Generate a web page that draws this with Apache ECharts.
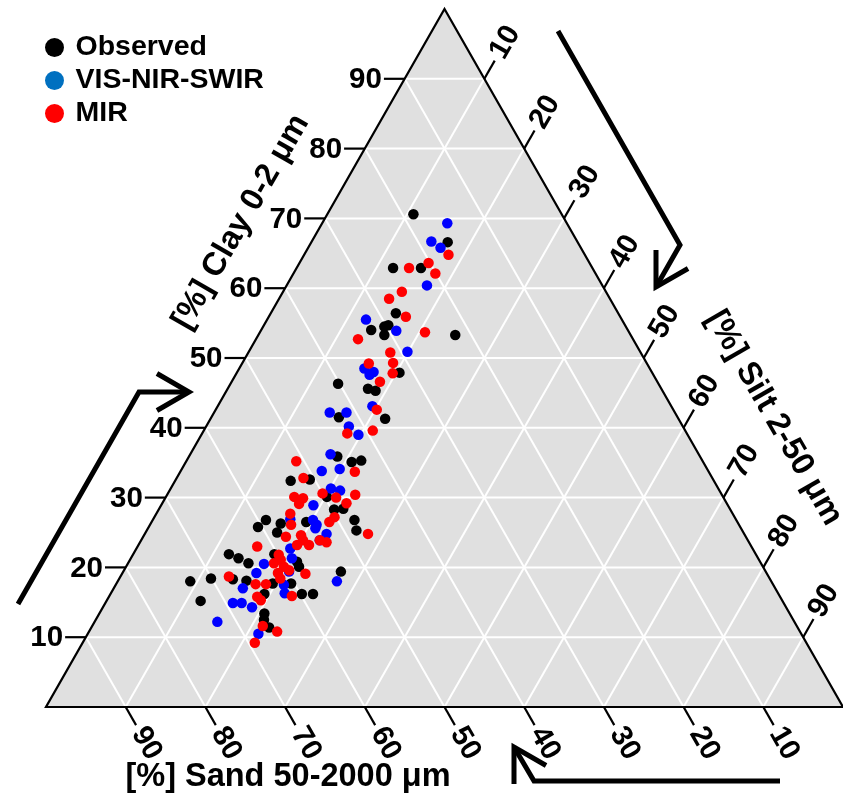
<!DOCTYPE html>
<html><head><meta charset="utf-8">
<script src="https://cdn.jsdelivr.net/npm/echarts@6/dist/echarts.min.js"></script>
<style>html,body{margin:0;padding:0;background:#fff}#c{width:843px;height:803px}</style>
</head><body><div id="c"></div><script>
// ---- data (percent): [sand, silt, clay] ----
const tickValues = [10, 20, 30, 40, 50, 60, 70, 80, 90];
const clayTickLabels = ['10','20','30','40','50','60','70','80','90'];
const siltTickLabels = ['10','20','30','40','50','60','70','80','90'];
const sandTickLabels = ['10','20','30','40','50','60','70','80','90'];
const seriesNames = ['Observed', 'VIS-NIR-SWIR', 'MIR'];
const clayTitle = '[%] Clay 0-2 \u03bcm';
const siltTitle = '[%] Silt 2-50 \u03bcm';
const sandTitle = '[%] Sand 50-2000 \u03bcm';

const observed = [
  [18.6,10.8,70.6],[16.3,17.1,66.6],[25.0,12.1,62.9],[21.5,15.6,62.9],[27.9,15.7,56.4],
  [32.2,13.8,54.0],[30.3,15.2,54.5],[29.7,15.6,54.7],[30.9,15.8,53.3],[22.0,24.7,53.3],
  [31.7,20.4,47.9],[40.2,13.5,46.3],[36.8,17.6,45.6],[36.0,18.7,45.3],[42.5,16.0,41.5],
  [36.8,21.9,41.3],[45.5,18.6,35.9],[44.1,20.8,35.1],[42.8,21.9,35.3],[53.1,14.5,32.4],
  [50.6,16.8,32.6],[49.7,20.2,30.1],[48.5,23.1,28.4],[49.7,22.0,28.3],[59.0,14.2,26.8],
  [60.5,13.7,25.8],[57.4,16.3,26.3],[58.5,16.5,25.0],[54.1,19.4,26.5],[47.9,25.3,26.8],
  [48.4,26.3,25.3],[66.1,12.0,21.9],[65.2,13.5,21.3],[64.3,15.1,20.6],[60.4,17.7,21.9],
  [58.1,21.1,20.8],[58.2,21.7,20.1],[53.3,27.3,19.4],[72.9,9.1,18.0],[70.1,11.5,18.4],
  [67.4,14.3,18.3],[65.8,16.1,18.1],[60.4,21.9,17.7],[64.5,19.3,16.2],[59.8,24.0,16.2],
  [58.4,25.4,16.2],[73.0,11.8,15.2],[65.9,20.7,13.4],[66.4,21.1,12.5],[66.3,22.3,11.4],
  [62.7,19.6,17.7]
];
const visNirSwir = [
  [15.0,15.7,69.3],[18.3,15.0,66.7],[17.6,16.6,65.8],[22.0,17.6,60.4],[32.1,12.4,55.5],
  [29.1,17.0,53.9],[29.2,19.9,50.9],[35.8,15.7,48.5],[34.9,17.1,48.0],[35.6,16.8,47.6],
  [43.3,14.5,42.2],[41.2,16.6,42.2],[37.5,19.4,43.1],[41.9,17.9,40.2],[41.3,19.7,39.0],
  [46.2,17.6,36.2],[48.5,17.7,33.8],[46.1,19.8,34.1],[48.6,20.1,31.3],[47.6,21.4,31.0],
  [52.0,19.1,28.9],[55.9,17.2,26.9],[53.1,20.1,26.8],[53.0,20.9,26.1],[53.4,21.0,25.6],
  [52.4,22.8,24.8],[53.7,22.4,23.9],[58.0,19.3,22.7],[62.4,17.1,20.5],[64.0,16.8,19.2],
  [59.8,20.8,19.4],[58.5,20.2,21.3],[54.5,27.5,18.0],[66.8,16.2,17.0],[61.9,21.8,16.3],
  [61.4,21.1,17.5],[69.1,16.0,14.9],[68.0,17.1,14.9],[67.0,18.7,14.3],[72.4,15.4,12.2],
  [68.1,21.4,10.5]
];
const mir = [
  [17.1,18.1,64.8],[23.0,14.1,62.9],[20.2,16.2,63.6],[20.1,17.8,62.1],[25.6,14.9,59.5],
  [27.7,13.8,58.5],[26.9,17.2,55.9],[25.6,20.7,53.7],[34.5,12.8,52.7],[31.4,17.8,50.8],
  [31.8,18.9,49.3],[34.9,15.9,49.2],[32.6,19.6,47.8],[34.8,18.6,46.6],[37.2,20.2,42.6],
  [42.6,18.2,39.2],[39.2,21.2,39.6],[51.0,13.8,35.2],[44.4,21.9,33.7],[51.3,15.9,32.8],
  [50.0,19.4,30.6],[48.6,21.4,30.0],[46.0,23.6,30.4],[53.8,16.1,30.1],[52.8,17.3,29.9],
  [53.7,17.2,29.1],[47.7,23.1,29.2],[55.5,16.8,27.7],[56.2,17.7,26.1],[51.2,22.3,26.5],
  [50.2,22.6,27.2],[47.2,28.0,24.8],[57.7,17.9,24.4],[55.7,19.7,24.6],[55.8,20.3,23.9],
  [53.7,22.4,23.9],[53.0,23.4,23.6],[56.9,19.9,23.2],[55.4,21.4,23.2],[62.0,15.0,23.0],
  [59.9,18.3,21.8],[61.1,18.3,20.6],[60.0,18.9,21.1],[60.1,19.8,20.1],[59.7,20.7,19.6],
  [61.3,19.5,19.2],[61.4,20.2,18.4],[57.9,23.0,19.1],[67.7,13.6,18.7],[64.9,17.5,17.6],
  [63.6,18.8,17.6],[61.2,22.9,15.9],[65.6,18.6,15.8],[65.4,19.3,15.3],[67.0,21.4,11.6],
  [65.6,23.6,10.8],[69.2,21.6,9.2]
];

// ---- ternary -> cartesian ----
const SQ = Math.sqrt(3) / 2;
function tern(sand, silt, clay) { return [silt + clay / 2, clay * SQ]; }

const FONT_TICK = 'bold 29.5px "Liberation Sans", Arial, sans-serif';
const FONT_TITLE = 'bold 32.5px "Liberation Sans", Arial, sans-serif';
const TICK = 2.6;      // tick length in percent units
const LAB_GAP = 21;    // px from tick end to rotated label centre

const chart = echarts.init(document.getElementById('c'), null, {renderer: 'canvas'});

const bgSeries = {
  type: 'custom', silent: true, z: 1, clip: false,
  data: [[0]],
  renderItem(params, api) {
    const pts = [api.coord(tern(100,0,0)), api.coord(tern(0,100,0)), api.coord(tern(0,0,100))];
    return {type: 'polygon', shape: {points: pts}, style: {fill: '#e0e0e0'}};
  }
};
const gridSeries = {
  type: 'custom', silent: true, z: 2, clip: false,
  data: tickValues.map(v => [v]),
  renderItem(params, api) {
    const k = api.value(0);
    const segs = [
      [tern(100-k,0,k), tern(0,100-k,k)],   // clay
      [tern(k,0,100-k), tern(k,100-k,0)],   // sand
      [tern(100-k,k,0), tern(0,k,100-k)]    // silt
    ];
    return {type: 'group', children: segs.map(s => {
      const a = api.coord(s[0]), b = api.coord(s[1]);
      return {type:'line', shape:{x1:a[0],y1:a[1],x2:b[0],y2:b[1]}, style:{stroke:'#ffffff', lineWidth:2}};
    })};
  }
};
const borderSeries = {
  type: 'custom', silent: true, z: 4, clip: false,
  data: [[0]],
  renderItem(params, api) {
    const pts = [api.coord(tern(100,0,0)), api.coord(tern(0,100,0)), api.coord(tern(0,0,100))];
    return {type: 'polygon', shape: {points: pts}, style: {fill: 'none', stroke: '#000', lineWidth: 2.2}};
  }
};
const tickSeries = {
  type: 'custom', silent: true, z: 4, clip: false,
  data: tickValues.map((v, i) => [v, i]),
  renderItem(params, api) {
    const k = api.value(0), i = api.value(1);
    const ch = [];
    // clay (left side)
    let a = api.coord(tern(100-k,0,k)), b = api.coord(tern(100-k+TICK,-TICK,k));
    ch.push({type:'line', shape:{x1:a[0],y1:a[1],x2:b[0],y2:b[1]}, style:{stroke:'#000', lineWidth:2.2}});
    ch.push({type:'text', x:b[0]-2, y:b[1]+1, style:{text:clayTickLabels[i], font:FONT_TICK, fill:'#000', align:'right', verticalAlign:'middle'}});
    // silt (right side)
    a = api.coord(tern(0,k,100-k)); b = api.coord(tern(-TICK,k,100-k+TICK));
    ch.push({type:'line', shape:{x1:a[0],y1:a[1],x2:b[0],y2:b[1]}, style:{stroke:'#000', lineWidth:2.2}});
    ch.push({type:'text', x:b[0]+LAB_GAP*0.5, y:b[1]-LAB_GAP*SQ, rotation:Math.PI/3,
      style:{text:siltTickLabels[i], font:FONT_TICK, fill:'#000', align:'center', verticalAlign:'middle'}});
    // sand (bottom)
    a = api.coord(tern(k,100-k,0)); b = api.coord(tern(k,100-k+TICK,-TICK));
    ch.push({type:'line', shape:{x1:a[0],y1:a[1],x2:b[0],y2:b[1]}, style:{stroke:'#000', lineWidth:2.2}});
    ch.push({type:'text', x:b[0]+LAB_GAP*0.5, y:b[1]+LAB_GAP*SQ, rotation:-Math.PI/3,
      style:{text:sandTickLabels[i], font:FONT_TICK, fill:'#000', align:'center', verticalAlign:'middle'}});
    return {type:'group', children: ch};
  }
};

const pointColors = ['#000000', '#0000ff', '#ff0000'];
const pointSeries = [observed, visNirSwir, mir].map((arr, i) => ({
  name: seriesNames[i], type: 'scatter', symbol: 'circle', symbolSize: 10.5, z: 10 + i,
  clip: false, silent: true,
  itemStyle: {color: pointColors[i], opacity: 1},
  data: arr.map(p => tern(p[0], p[1], p[2]))
}));

function arrow(points, tip, dirDeg) {
  const L = 37, sp = 30;
  const back = (dirDeg + 180) * Math.PI / 180;
  const a1 = back + sp * Math.PI / 180, a2 = back - sp * Math.PI / 180;
  const p1 = [tip[0] + L * Math.cos(a1), tip[1] + L * Math.sin(a1)];
  const p2 = [tip[0] + L * Math.cos(a2), tip[1] + L * Math.sin(a2)];
  return [
    {type:'polyline', shape:{points: points.concat([tip])}, style:{stroke:'#000', lineWidth:5, fill:null, lineJoin:'miter'}},
    {type:'polyline', shape:{points:[p1, tip, p2]}, style:{stroke:'#000', lineWidth:5, fill:null, lineJoin:'miter'}}
  ];
}

const graphics = [].concat(
  arrow([[18,604],[139,392]], [189,392], 0),
  arrow([[558,31],[680,245]], [656,287], 120),
  arrow([[780,781],[534,781]], [514,747], 240),
  [
    {type:'text', x:241, y:222, rotation:Math.PI/3, style:{text:clayTitle, font:FONT_TITLE, fill:'#000', align:'center', verticalAlign:'middle'}},
    {type:'text', x:774, y:418, rotation:-Math.PI/3, style:{text:siltTitle, font:FONT_TITLE, fill:'#000', align:'center', verticalAlign:'middle'}},
    {type:'text', x:288, y:777, style:{text:sandTitle, font:FONT_TITLE, fill:'#000', align:'center', verticalAlign:'middle'}}
  ]
);

chart.setOption({
  animation: false,
  backgroundColor: '#ffffff',
  grid: {left: 46, top: 9, width: 806, height: 698, containLabel: false},
  xAxis: {type: 'value', min: 0, max: 100, show: false},
  yAxis: {type: 'value', min: 0, max: 100 * SQ, show: false},
  legend: {
    orient: 'vertical', left: 40, top: 28, itemWidth: 32, itemHeight: 19, itemGap: 4,
    icon: 'circle', selectedMode: false,
    textStyle: {fontSize: 28.5, fontWeight: 'bold', fontFamily: '"Liberation Sans", Arial, sans-serif', color: '#000', lineHeight: 19},
    data: [
      {name: seriesNames[0], itemStyle: {color: '#000000'}},
      {name: seriesNames[1], itemStyle: {color: '#0070c0'}},
      {name: seriesNames[2], itemStyle: {color: '#ff0000'}}
    ]
  },
  graphic: graphics,
  series: [bgSeries, gridSeries, borderSeries, tickSeries].concat(pointSeries)
});
</script></body></html>
